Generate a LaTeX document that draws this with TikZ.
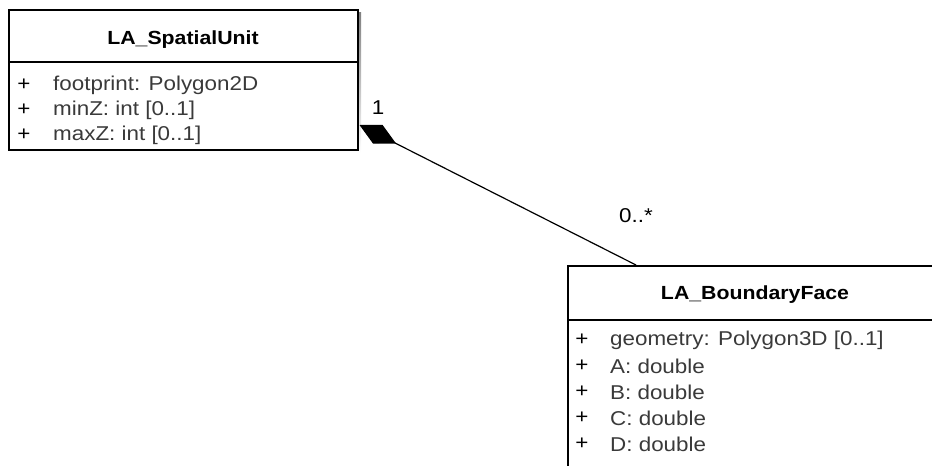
\documentclass[tikz,border=0pt]{standalone}
\usepackage{fontspec}
\setmainfont{Liberation Sans}[FakeStretch=1.12]
\usetikzlibrary{arrows.meta,calc}
\definecolor{attr}{HTML}{3A3A3A}
\definecolor{shade}{HTML}{C8C8C8}
\begin{document}
\begin{tikzpicture}[x=1pt,y=-1pt,
  box/.style={draw=black,line width=1.5pt,fill=white,anchor=north west,inner sep=0pt},
  title/.style={font=\fontsize{19}{22}\selectfont\bfseries,text=black,inner sep=0pt},
  attrtxt/.style={font=\fontsize{20}{23}\selectfont,text=attr,anchor=west,inner sep=0pt},
  plus/.style={font=\fontsize{20}{23}\selectfont,text=black,inner sep=0pt},
  mult/.style={font=\fontsize{20}{23}\selectfont,text=black,inner sep=0pt}]
\useasboundingbox (0,0) rectangle (932,466);
\clip (0,0) rectangle (932,466);
% shadow
\fill[shade] (11,12) rectangle (361,153);
% LA_SpatialUnit
\node[box,minimum width=349pt,minimum height=140pt] (su) at (8,9) {};
\draw[line width=1.2pt] (8,62) -- (357,62);
\node[title] (sut) at (183,40) {LA\_SpatialUnit};
\node[plus] (sp1) at (24,85) {+};
\node[attrtxt] (sa1) at (53,85) {footprint: Polygon2D};
\node[plus] (sp2) at (24,110) {+};
\node[attrtxt] (sa2) at (53,110) {minZ: int [0..1]};
\node[plus] (sp3) at (24,135) {+};
\node[attrtxt] (sa3) at (53,135) {maxZ: int [0..1]};
% LA_BoundaryFace
\node[box,minimum width=376pt,minimum height=220pt] (bf) at (567,265) {};
\draw[line width=1.2pt] (567,320) -- (943,320);
\node[title] (bft) at (755,295) {LA\_BoundaryFace};
\node[plus] (bp1) at (582,340) {+};
\node[attrtxt] (ba1) at (610,340) {geometry: Polygon3D [0..1]};
\node[plus] (bp2) at (582,366) {+};
\node[attrtxt] (ba2) at (610,366) {A: double};
\node[plus] (bp3) at (582,392) {+};
\node[attrtxt] (ba3) at (610,392) {B: double};
\node[plus] (bp4) at (582,418) {+};
\node[attrtxt] (ba4) at (610,418) {C: double};
\node[plus] (bp5) at (582,444) {+};
\node[attrtxt] (ba5) at (610,444) {D: double};
% composition
\coordinate (ca) at ($(su.north east)+(1,116)$);
\coordinate (cb) at ($(bf.north west)+(69,0)$);
\draw[line width=1.2pt,{Diamond[length=41pt,width=21pt,fill=black]}-] (ca) -- (cb);
\node[mult] (m1) at (378,108) {1};
\node[mult] (m2) at (636,216) {0..*};
\end{tikzpicture}
\end{document}
